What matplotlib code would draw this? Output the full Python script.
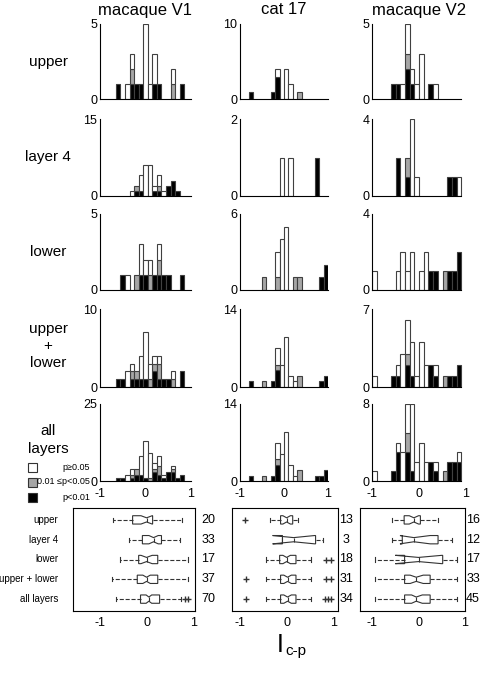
import matplotlib.pyplot as plt
import numpy as np

plt.rcParams['font.family'] = ['Liberation Sans', 'DejaVu Sans']

W, H = 480, 675

# ---- histogram data (counts per bin: black p<0.01, grey 0.01<=p<0.05, white p>=0.05)
v1_bins = [-0.6, -0.5, -0.4, -0.3, -0.2, -0.1, 0.0, 0.1, 0.2, 0.3, 0.4, 0.5, 0.6, 0.7, 0.8]
cat_bins = [-0.75, -0.65, -0.55, -0.45, -0.35, -0.25, -0.15, -0.05, 0.05,
            0.15, 0.25, 0.35, 0.45, 0.55, 0.65, 0.75, 0.85, 0.95]
v2_bins = [-0.95, -0.85, -0.75, -0.65, -0.55, -0.45, -0.35, -0.25, -0.15, -0.05,
           0.05, 0.15, 0.25, 0.35, 0.45, 0.55, 0.65, 0.75, 0.85]

v1_upper_b = [1, 0, 0, 1, 1, 1, 0, 0, 1, 1, 0, 0, 0, 0, 1]
v1_upper_g = [0, 0, 0, 1, 0, 0, 0, 0, 0, 0, 0, 0, 1, 0, 0]
v1_upper_w = [0, 0, 1, 1, 0, 0, 5, 1, 2, 0, 0, 0, 1, 0, 0]
v1_l4_b = [0, 0, 0, 0, 1, 1, 0, 0, 1, 1, 0, 2, 3, 1, 0]
v1_l4_g = [0, 0, 0, 0, 1, 0, 0, 0, 0, 1, 0, 0, 0, 0, 0]
v1_l4_w = [0, 0, 0, 1, 0, 3, 6, 6, 1, 2, 1, 0, 0, 0, 0]
v1_lower_b = [0, 1, 0, 0, 0, 1, 1, 0, 1, 1, 1, 1, 0, 0, 1]
v1_lower_g = [0, 0, 0, 0, 1, 0, 0, 1, 0, 1, 0, 0, 0, 0, 0]
v1_lower_w = [0, 0, 1, 0, 0, 2, 1, 1, 0, 1, 0, 0, 0, 0, 0]
v1_ul_b = [1, 1, 0, 1, 1, 1, 1, 0, 2, 1, 1, 1, 0, 0, 2]
v1_ul_g = [0, 0, 0, 1, 1, 0, 0, 1, 1, 2, 0, 0, 1, 0, 0]
v1_ul_w = [0, 0, 2, 1, 0, 3, 6, 2, 1, 1, 0, 0, 1, 0, 0]
v1_all_b = [1, 1, 0, 1, 2, 2, 1, 0, 3, 2, 1, 3, 3, 1, 2]
v1_all_g = [0, 0, 0, 1, 2, 0, 0, 1, 1, 3, 0, 0, 1, 0, 0]
v1_all_w = [0, 0, 2, 2, 0, 6, 12, 8, 2, 3, 1, 0, 1, 0, 0]

cat_upper_b = [1, 0, 0, 0, 0, 1, 3, 0, 0, 0, 0, 0, 0, 0, 0, 0, 0, 0]
cat_upper_g = [0, 0, 0, 0, 0, 0, 0, 0, 0, 0, 0, 1, 0, 0, 0, 0, 0, 0]
cat_upper_w = [0, 0, 0, 0, 0, 0, 1, 0, 4, 2, 0, 0, 0, 0, 0, 0, 0, 0]
cat_l4_b = [0, 0, 0, 0, 0, 0, 0, 0, 0, 0, 0, 0, 0, 0, 0, 1, 0, 0]
cat_l4_g = [0, 0, 0, 0, 0, 0, 0, 0, 0, 0, 0, 0, 0, 0, 0, 0, 0, 0]
cat_l4_w = [0, 0, 0, 0, 0, 0, 0, 1, 0, 1, 0, 0, 0, 0, 0, 0, 0, 0]
cat_lower_b = [0, 0, 0, 0, 0, 0, 0, 0, 0, 0, 0, 0, 0, 0, 0, 0, 1, 2]
cat_lower_g = [0, 0, 0, 1, 0, 0, 1, 0, 0, 0, 1, 1, 0, 0, 0, 0, 0, 0]
cat_lower_w = [0, 0, 0, 0, 0, 0, 2, 4, 5, 0, 0, 0, 0, 0, 0, 0, 0, 0]
cat_ul_b = [1, 0, 0, 0, 0, 1, 3, 0, 0, 0, 0, 0, 0, 0, 0, 0, 1, 2]
cat_ul_g = [0, 0, 0, 1, 0, 0, 1, 0, 0, 0, 0, 2, 0, 0, 0, 0, 0, 0]
cat_ul_w = [0, 0, 0, 0, 0, 0, 3, 4, 9, 2, 1, 0, 0, 0, 0, 0, 0, 0]
cat_all_b = [1, 0, 0, 0, 0, 1, 3, 0, 0, 0, 0, 0, 0, 0, 0, 1, 1, 2]
cat_all_g = [0, 0, 0, 1, 0, 0, 1, 0, 0, 0, 0, 2, 0, 0, 0, 0, 0, 0]
cat_all_w = [0, 0, 0, 0, 0, 0, 3, 5, 9, 3, 1, 0, 0, 0, 0, 0, 0, 0]

v2_upper_b = [0, 0, 0, 0, 1, 1, 0, 2, 1, 0, 0, 0, 1, 0, 0, 0, 0, 0, 0]
v2_upper_g = [0, 0, 0, 0, 0, 0, 0, 1, 0, 0, 0, 0, 0, 0, 0, 0, 0, 0, 0]
v2_upper_w = [0, 0, 0, 0, 0, 0, 1, 2, 1, 1, 3, 0, 0, 1, 0, 0, 0, 0, 0]
v2_l4_b = [0, 0, 0, 0, 0, 2, 0, 1, 0, 0, 0, 0, 0, 0, 0, 0, 1, 1, 0]
v2_l4_g = [0, 0, 0, 0, 0, 0, 0, 1, 0, 0, 0, 0, 0, 0, 0, 0, 0, 0, 0]
v2_l4_w = [0, 0, 0, 0, 0, 0, 0, 0, 4, 1, 0, 0, 0, 0, 0, 0, 0, 0, 1]
v2_lower_b = [0, 0, 0, 0, 0, 0, 0, 0, 0, 0, 0, 0, 1, 1, 0, 0, 1, 1, 2]
v2_lower_g = [0, 0, 0, 0, 0, 0, 0, 0, 0, 0, 0, 0, 0, 0, 0, 1, 0, 0, 0]
v2_lower_w = [1, 0, 0, 0, 0, 1, 2, 1, 2, 0, 1, 2, 0, 0, 0, 0, 0, 0, 0]
v2_ul_b = [0, 0, 0, 0, 1, 1, 0, 2, 1, 0, 0, 0, 2, 1, 0, 0, 1, 1, 2]
v2_ul_g = [0, 0, 0, 0, 0, 0, 0, 1, 0, 0, 0, 0, 0, 0, 0, 1, 0, 0, 0]
v2_ul_w = [1, 0, 0, 0, 0, 1, 3, 3, 3, 1, 4, 2, 0, 1, 0, 0, 0, 0, 0]
v2_all_b = [0, 0, 0, 0, 1, 3, 0, 3, 1, 0, 0, 0, 2, 1, 0, 0, 2, 2, 2]
v2_all_g = [0, 0, 0, 0, 0, 0, 0, 2, 0, 0, 0, 0, 0, 0, 0, 1, 0, 0, 0]
v2_all_w = [1, 0, 0, 0, 0, 1, 3, 3, 7, 2, 4, 2, 0, 1, 0, 0, 0, 0, 1]

v1_ymax = [5, 15, 5, 10, 25]
cat_ymax = [10, 2, 6, 14, 14]
v2_ymax = [5, 4, 4, 7, 8]

titles = ['macaque V1', 'cat 17', 'macaque V2']
row_labels = ['upper', 'layer 4', 'lower', 'upper\n+\nlower', 'all\nlayers']
box_labels = ['upper', 'layer 4', 'lower', 'upper + lower', 'all layers']

# ---- box plot summaries (rows: upper, layer 4, lower, upper+lower, all)
v1_n = [20, 33, 17, 37, 70]
v1_q1 = [-0.3, -0.09, -0.17, -0.2, -0.13]
v1_med = [0.0, 0.15, 0.0, 0.0, 0.05]
v1_q3 = [0.13, 0.32, 0.24, 0.24, 0.28]
v1_lo = [-0.72, -0.37, -0.58, -0.75, -0.65]
v1_hi = [0.77, 0.71, 0.88, 0.88, 0.75]
v1_cilo = [-0.12, 0.05, -0.12, -0.08, -0.01]
v1_cihi = [0.12, 0.25, 0.12, 0.08, 0.11]
v1_fliers = [[], [], [], [], [0.82, 0.88]]

cat_n = [13, 3, 18, 31, 34]
cat_q1 = [-0.13, -0.09, -0.15, -0.13, -0.13]
cat_med = [0.0, 0.15, 0.0, 0.02, 0.02]
cat_q3 = [0.13, 0.62, 0.2, 0.2, 0.2]
cat_lo = [-0.35, -0.09, -0.45, -0.45, -0.45]
cat_hi = [0.24, 0.77, 0.52, 0.52, 0.52]
cat_cilo = [-0.08, -0.3, -0.08, -0.06, -0.06]
cat_cihi = [0.08, 0.6, 0.08, 0.1, 0.1]
cat_fliers = [[-0.9], [], [0.84, 0.95], [-0.88, 0.84, 0.95], [-0.88, 0.82, 0.88, 0.95]]

v2_n = [16, 12, 17, 33, 45]
v2_q1 = [-0.31, -0.35, -0.3, -0.3, -0.3]
v2_med = [-0.1, -0.1, 0.0, -0.05, -0.05]
v2_q3 = [0.04, 0.42, 0.52, 0.25, 0.25]
v2_lo = [-0.58, -0.58, -0.94, -0.94, -0.94]
v2_hi = [0.42, 0.73, 0.83, 0.83, 0.83]
v2_cilo = [-0.2, -0.4, -0.5, -0.18, -0.15]
v2_cihi = [0.0, 0.25, 0.5, 0.1, 0.08]
v2_fliers = [[], [], [], [], []]

fig = plt.figure(figsize=(W / 100, H / 100), dpi=100)


def px_axes(x0, y0, x1, y1):
    return fig.add_axes([x0 / W, 1 - y1 / H, (x1 - x0) / W, (y1 - y0) / H])


def hist_panel(ax, bins, blk, gry, wht, ymax, xend, last):
    x = np.array(bins)
    b, g, w = np.array(blk), np.array(gry), np.array(wht)
    kw = dict(width=0.1, edgecolor='0.25', linewidth=0.8)
    m = b > 0
    ax.bar(x[m], b[m], color='black', **kw)
    m = g > 0
    ax.bar(x[m], g[m], bottom=b[m], color='0.65', **kw)
    m = w > 0
    ax.bar(x[m], w[m], bottom=(b + g)[m], color='white', **kw)
    ax.set_xlim(-1, 1)
    ax.set_ylim(0, ymax)
    for s in ['top', 'right']:
        ax.spines[s].set_visible(False)
    ax.spines['left'].set_bounds(0, ymax)
    ax.spines['bottom'].set_bounds(-1, xend)
    ax.set_yticks([0, ymax])
    ax.tick_params(axis='y', length=0, pad=2, labelsize=9)
    if last:
        ax.set_xticks([-1, 0, 1])
        ax.set_xticklabels(['-1', '0', '1'])
        ax.tick_params(axis='x', length=0, pad=5, labelsize=9)
    else:
        ax.set_xticks([])


def box_panel(ax, q1, med, q3, lo, hi, cilo, cihi, fliers, ns, xlim, nx_px):
    stats = []
    for i in range(5):
        stats.append(dict(q1=q1[i], med=med[i], q3=q3[i], whislo=lo[i], whishi=hi[i],
                          cilo=cilo[i], cihi=cihi[i], fliers=fliers[i]))
    ax.bxp(stats, positions=[5, 4, 3, 2, 1], orientation='horizontal', widths=0.42,
           shownotches=True, patch_artist=True,
           boxprops=dict(facecolor='white', edgecolor='0.2', linewidth=0.8),
           medianprops=dict(color='0.2', linewidth=0.8),
           whiskerprops=dict(color='0.2', linewidth=0.8, linestyle='--'),
           capprops=dict(color='0.2', linewidth=0.8),
           flierprops=dict(marker='+', markeredgecolor='0.2', markersize=4, linestyle='none'))
    ax.set_xlim(*xlim)
    ax.set_ylim(0.4, 5.6)
    ax.set_yticks([])
    ax.set_xticks([-1, 0, 1])
    ax.set_xticklabels(['-1', '0', '1'])
    ax.tick_params(axis='x', length=0, pad=4, labelsize=9)
    for s in ax.spines.values():
        s.set_linewidth(0.8)
    for i, n in enumerate(ns):
        yy = ax.transData.transform((0, 5 - i))[1]
        fig.text(nx_px / W, yy / H, str(n), fontsize=9, ha='center', va='center')


cols_x = [(100, 191), (240, 328), (372, 466)]
rows_y = [(24, 99), (119, 196), (214, 290), (309, 387), (404, 481)]
col_end = [1.0, 1.0, 0.9]

col_data = [
    (v1_bins, [(v1_upper_b, v1_upper_g, v1_upper_w), (v1_l4_b, v1_l4_g, v1_l4_w),
               (v1_lower_b, v1_lower_g, v1_lower_w), (v1_ul_b, v1_ul_g, v1_ul_w),
               (v1_all_b, v1_all_g, v1_all_w)], v1_ymax),
    (cat_bins, [(cat_upper_b, cat_upper_g, cat_upper_w), (cat_l4_b, cat_l4_g, cat_l4_w),
                (cat_lower_b, cat_lower_g, cat_lower_w), (cat_ul_b, cat_ul_g, cat_ul_w),
                (cat_all_b, cat_all_g, cat_all_w)], cat_ymax),
    (v2_bins, [(v2_upper_b, v2_upper_g, v2_upper_w), (v2_l4_b, v2_l4_g, v2_l4_w),
               (v2_lower_b, v2_lower_g, v2_lower_w), (v2_ul_b, v2_ul_g, v2_ul_w),
               (v2_all_b, v2_all_g, v2_all_w)], v2_ymax),
]

for c, (bins, panels, ymaxes) in enumerate(col_data):
    x0, x1 = cols_x[c]
    for r, (b, g, w) in enumerate(panels):
        y0, y1 = rows_y[r]
        ax = px_axes(x0, y0, x1, y1)
        hist_panel(ax, bins, b, g, w, ymaxes[r], col_end[c], r == 4)
    fig.text((x0 + x1) / 2 / W, 1 - 10 / H, titles[c], ha='center', va='center', fontsize=12)

row_text_y = [62, 157, 252, 346, 440]
for r, lab in enumerate(row_labels):
    fig.text(48 / W, 1 - row_text_y[r] / H, lab, ha='center', va='center', fontsize=11,
             linespacing=1.3)

# legend
leg_y = [467, 482, 497]
leg_c = ['white', '0.65', 'black']
leg_t = ['p\u22650.05', '0.01 \u2264p<0.05', 'p<0.01']
for yy, cc, tt in zip(leg_y, leg_c, leg_t):
    fig.patches.append(plt.Rectangle((28 / W, 1 - (yy + 4.5) / H), 9 / W, 9 / H,
                                     facecolor=cc, edgecolor='0.2', linewidth=0.8,
                                     transform=fig.transFigure))
    fig.text(90 / W, 1 - yy / H, tt, ha='right', va='center', fontsize=6.5)

# box plots
axb = px_axes(73, 508, 195, 611)
box_panel(axb, v1_q1, v1_med, v1_q3, v1_lo, v1_hi, v1_cilo, v1_cihi, v1_fliers, v1_n,
          (-1.58, 1.04), 208)
for i, lab in enumerate(box_labels):
    yy = axb.transData.transform((0, 5 - i))[1]
    fig.text(58 / W, yy / H, lab, ha='right', va='center', fontsize=7)
axb = px_axes(232, 508, 338, 611)
box_panel(axb, cat_q1, cat_med, cat_q3, cat_lo, cat_hi, cat_cilo, cat_cihi, cat_fliers,
          cat_n, (-1.17, 1.1), 346)
axb = px_axes(360, 508, 465, 611)
box_panel(axb, v2_q1, v2_med, v2_q3, v2_lo, v2_hi, v2_cilo, v2_cihi, v2_fliers, v2_n,
          (-1.26, 1.0), 473)

fig.text(284 / W, 1 - 645 / H, 'I', ha='right', va='center', fontsize=18)
fig.text(285 / W, 1 - 651 / H, 'c-p', ha='left', va='center', fontsize=11)

fig.savefig('out.png', dpi=100)
